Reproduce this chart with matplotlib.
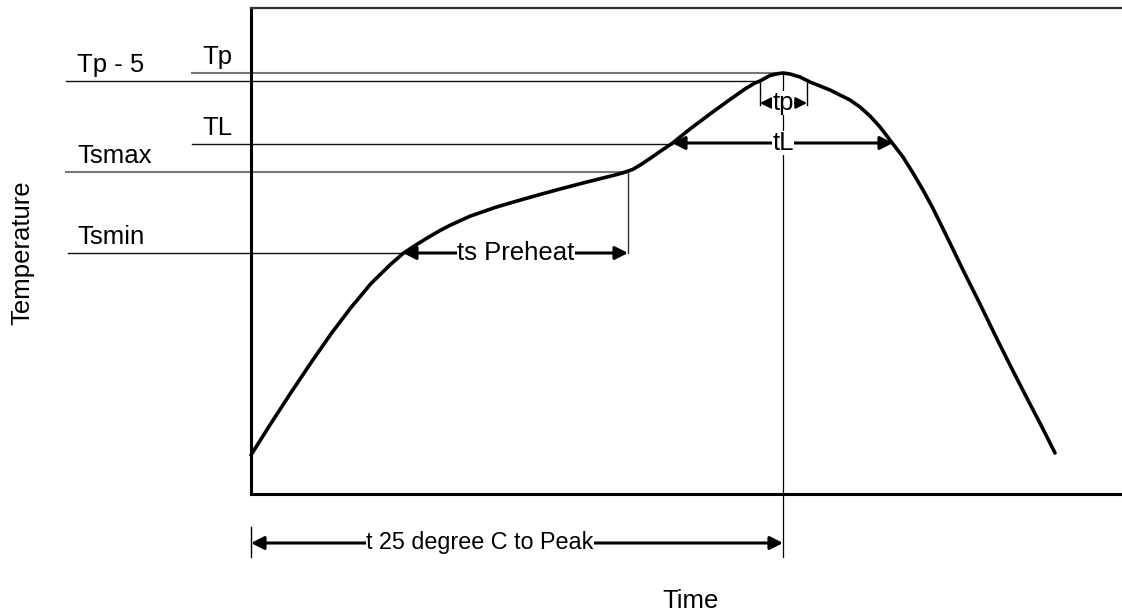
import matplotlib
matplotlib.use("Agg")
import matplotlib.pyplot as plt
from matplotlib.patches import FancyArrowPatch

plt.rcParams['font.family'] = ['Liberation Sans', 'DejaVu Sans']

# ---- data (schematic units) ----
time = [0, 20, 40, 60, 80, 100, 120, 140, 152, 164, 177, 189, 199, 219, 244,
        266, 289, 311, 332, 354, 364, 374, 382, 390, 399, 409, 421, 439, 459, 479,
        494, 504, 509, 519, 526, 532, 539, 549, 559, 569, 579, 589, 599, 609,
        619, 629, 642, 652, 662, 672, 682, 697, 712, 729, 746, 762, 779, 792, 804]
temp = [39, 70.7, 101.5, 131.3, 160.1, 186.5, 210.5, 230, 240.5, 248.5, 256.5, 263.5,
        268.7, 277.8, 286.5, 293, 299.5, 305.5, 311, 316.5, 319, 321.8, 324.7, 329.5,
        335.5, 342.5, 350.5, 365, 380, 394.5, 405, 411, 413, 418.5, 420.2, 421,
        420, 417, 412, 408, 404, 399, 394, 387, 378, 367, 350, 337, 321, 304,
        285.5, 255, 224, 190, 155, 123, 90, 65, 41]

level_names = ["Tp - 5", "Tp", "TL", "Tsmax", "Tsmin"]
level_values = [413, 421, 350, 322, 241]

ts_start, ts_end = 152, 377
tl_start, tl_end = 421, 642
tp_start, tp_end = 509, 556
t_peak = 532

# ---- figure ----
fig = plt.figure(figsize=(11.22, 6.14), dpi=100)
ax = fig.add_axes([251 / 1122, 120 / 614, 871 / 1122, 486 / 614])
ax.set_xlim(0, 871)
ax.set_ylim(0, 486)
ax.set_xticks([])
ax.set_yticks([])
ax.spines['right'].set_visible(False)
ax.spines['left'].set_linewidth(2.2)
ax.spines['bottom'].set_linewidth(2.2)
ax.spines['top'].set_linewidth(1.6)
ax.spines['top'].set_color('#333333')

FS = 18.5

# reference level lines and labels
lines_cfg = {
    "Tp - 5": dict(x0=-185, x1=tp_start, color='#111111', lw=1.0, lx=-174),
    "Tp": dict(x0=-59, x1=t_peak, color='#777777', lw=1.5, lx=-49),
    "TL": dict(x0=-59, x1=tl_start, color='#111111', lw=1.0, lx=-49),
    "Tsmax": dict(x0=-185, x1=ts_end, color='#777777', lw=1.5, lx=-174),
    "Tsmin": dict(x0=-183, x1=ts_start, color='#111111', lw=1.0, lx=-174),
}
for name, val in zip(level_names, level_values):
    c = lines_cfg[name]
    ax.plot([c['x0'], c['x1']], [val, val], color=c['color'], lw=c['lw'],
            clip_on=False, zorder=2)
    ax.text(c['lx'], val + 9, name, fontsize=FS, va='baseline', ha='left',
            clip_on=False)

# profile curve
ax.plot(time, temp, color='black', lw=2.6, solid_joinstyle='round',
        solid_capstyle='round', zorder=4, clip_on=False, antialiased=True)

# vertical helper lines
ax.plot([t_peak, t_peak], [421, -63], color='black', lw=0.9, clip_on=False, zorder=1)
ax.plot([ts_end, ts_end], [322, 241], color='#333333', lw=1.0, clip_on=False, zorder=1)
for xb in (tp_start, tp_end):
    ax.plot([xb, xb], [411, 389], color='black', lw=1.0, clip_on=False, zorder=3)
ax.plot([0, 0], [-33, -63], color='black', lw=1.0, clip_on=False)


def dim_arrow(x0, x1, y, label, tx, lw=2.2, ms=14, fs=FS):
    arr = FancyArrowPatch((x0, y), (x1, y),
                          arrowstyle='<|-|>,head_length=0.55,head_width=0.28',
                          mutation_scale=ms, lw=lw, color='black', shrinkA=0, shrinkB=0,
                          clip_on=False, zorder=3)
    ax.add_patch(arr)
    ax.text(tx, y, label, fontsize=fs, ha='center', va='center', zorder=5,
            bbox=dict(boxstyle='square,pad=0.0', fc='white', ec='none'), clip_on=False)


dim_arrow(ts_start, ts_end, 241, "ts Preheat", 265)
dim_arrow(tl_start, tl_end, 351, "tL", t_peak)
dim_arrow(tp_start, tp_end, 391, "tp", t_peak, lw=1.6, ms=12)
dim_arrow(0, t_peak, -49, "t 25 degree C to Peak", 229, fs=16.8)

ax.text(440, -107, "Time", fontsize=FS, ha='center', va='center', clip_on=False)
ax.text(-229, 241, "Temperature", fontsize=FS, ha='center', va='center',
        rotation=90, clip_on=False)

fig.savefig("out.png", dpi=100)
